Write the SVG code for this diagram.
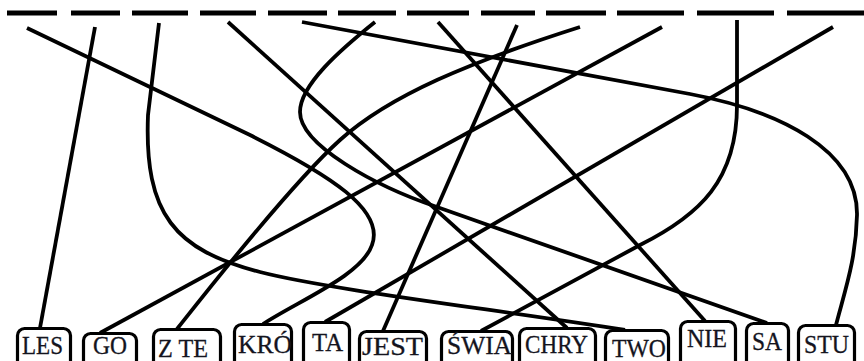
<svg xmlns="http://www.w3.org/2000/svg" width="864" height="361" viewBox="0 0 864 361">
<style>
.dash{stroke:#000;stroke-width:5;fill:none}
.conn{stroke:#000;stroke-width:3.8;fill:none;stroke-linejoin:round}
.box{fill:#fff;stroke:#000;stroke-width:3.2}
.lbl{font-family:"Liberation Serif","Times New Roman",serif;font-size:25px;fill:#14141e;stroke:#14141e;stroke-width:0.3}
</style>
<rect width="864" height="361" fill="#fff"/>
<g id="dashes">
<line class="dash" x1="7" y1="13" x2="57" y2="13"/>
<line class="dash" x1="71" y1="13" x2="120" y2="13"/>
<line class="dash" x1="132" y1="13" x2="188" y2="13"/>
<line class="dash" x1="200" y1="13" x2="256" y2="13"/>
<line class="dash" x1="268" y1="13" x2="327" y2="13"/>
<line class="dash" x1="338" y1="13" x2="396" y2="13"/>
<line class="dash" x1="407" y1="13" x2="469" y2="13"/>
<line class="dash" x1="481" y1="13" x2="535" y2="13"/>
<line class="dash" x1="546" y1="13" x2="606" y2="13"/>
<line class="dash" x1="617" y1="13" x2="684" y2="13"/>
<line class="dash" x1="697" y1="13" x2="774" y2="13"/>
<line class="dash" x1="787" y1="13" x2="864" y2="13"/>
</g>
<g id="connectors">
<path class="conn" d="M95,27 L40,328"/>
<path class="conn" d="M662,27 L100,333"/>
<path class="conn" d="M580,27 C470,62 390,95 340,140 S200,300 177,329"/>
<path class="conn" d="M27,28 L250,135 C330,175 385,210 372,245 C362,275 300,300 263,324"/>
<path class="conn" d="M833,27 L325,322"/>
<path class="conn" d="M517,25 L383,331"/>
<path class="conn" d="M737,20 L737,105 C737,180 700,215 640,245 L481,331"/>
<path class="conn" d="M228,22 L567,328"/>
<path class="conn" d="M159,23 L148,115 C144,215 175,250 260,272 C330,290 500,310 625,330"/>
<path class="conn" d="M438,22 L705,321"/>
<path class="conn" d="M375,22 C340,50 300,85 300,112 C300,145 375,186 437,207 L767,323"/>
<path class="conn" d="M302,22 L690,94 C780,111 858,150 857,215 C856,260 845,290 836,325"/>
</g>
<g id="node-les"><rect class="box" x="17.5" y="328.5" width="53" height="50" rx="7"/><text class="lbl" x="22" y="354" textLength="41" lengthAdjust="spacingAndGlyphs">LES</text></g>
<g id="node-go"><rect class="box" x="83.5" y="333.5" width="53" height="50" rx="7"/><text class="lbl" x="93" y="354" textLength="34" lengthAdjust="spacingAndGlyphs">GO</text></g>
<g id="node-zte"><rect class="box" x="153.5" y="329.5" width="67" height="50" rx="7"/><text class="lbl" x="158" y="357" textLength="50" lengthAdjust="spacingAndGlyphs">Z TE</text></g>
<g id="node-kro"><rect class="box" x="234.5" y="324.5" width="57" height="50" rx="7"/><text class="lbl" x="238" y="353" textLength="54" lengthAdjust="spacingAndGlyphs">KRÓ</text></g>
<g id="node-ta"><rect class="box" x="303.5" y="322.5" width="46" height="50" rx="7"/><text class="lbl" x="312" y="351" textLength="31" lengthAdjust="spacingAndGlyphs">TA</text></g>
<g id="node-jest"><rect class="box" x="359.5" y="331.5" width="67" height="50" rx="7"/><text class="lbl" x="362" y="355" textLength="61" lengthAdjust="spacingAndGlyphs">JEST</text></g>
<g id="node-swia"><rect class="box" x="441.5" y="331.5" width="71" height="50" rx="7"/><text class="lbl" x="447" y="354" textLength="65" lengthAdjust="spacingAndGlyphs">ŚWIA</text></g>
<g id="node-chry"><rect class="box" x="519.5" y="328.5" width="76" height="50" rx="7"/><text class="lbl" x="525" y="353" textLength="63" lengthAdjust="spacingAndGlyphs">CHRY</text></g>
<g id="node-two"><rect class="box" x="605.5" y="330.5" width="63" height="50" rx="7"/><text class="lbl" x="612" y="357" textLength="54" lengthAdjust="spacingAndGlyphs">TWO</text></g>
<g id="node-nie"><rect class="box" x="680.5" y="321.5" width="55" height="50" rx="7"/><text class="lbl" x="687" y="347" textLength="40" lengthAdjust="spacingAndGlyphs">NIE</text></g>
<g id="node-sa"><rect class="box" x="746.5" y="323.5" width="42" height="50" rx="7"/><text class="lbl" x="752" y="350" textLength="30" lengthAdjust="spacingAndGlyphs">SA</text></g>
<g id="node-stu"><rect class="box" x="798.5" y="325.5" width="56" height="50" rx="7"/><text class="lbl" x="804" y="353" textLength="45" lengthAdjust="spacingAndGlyphs">STU</text></g>
</svg>
